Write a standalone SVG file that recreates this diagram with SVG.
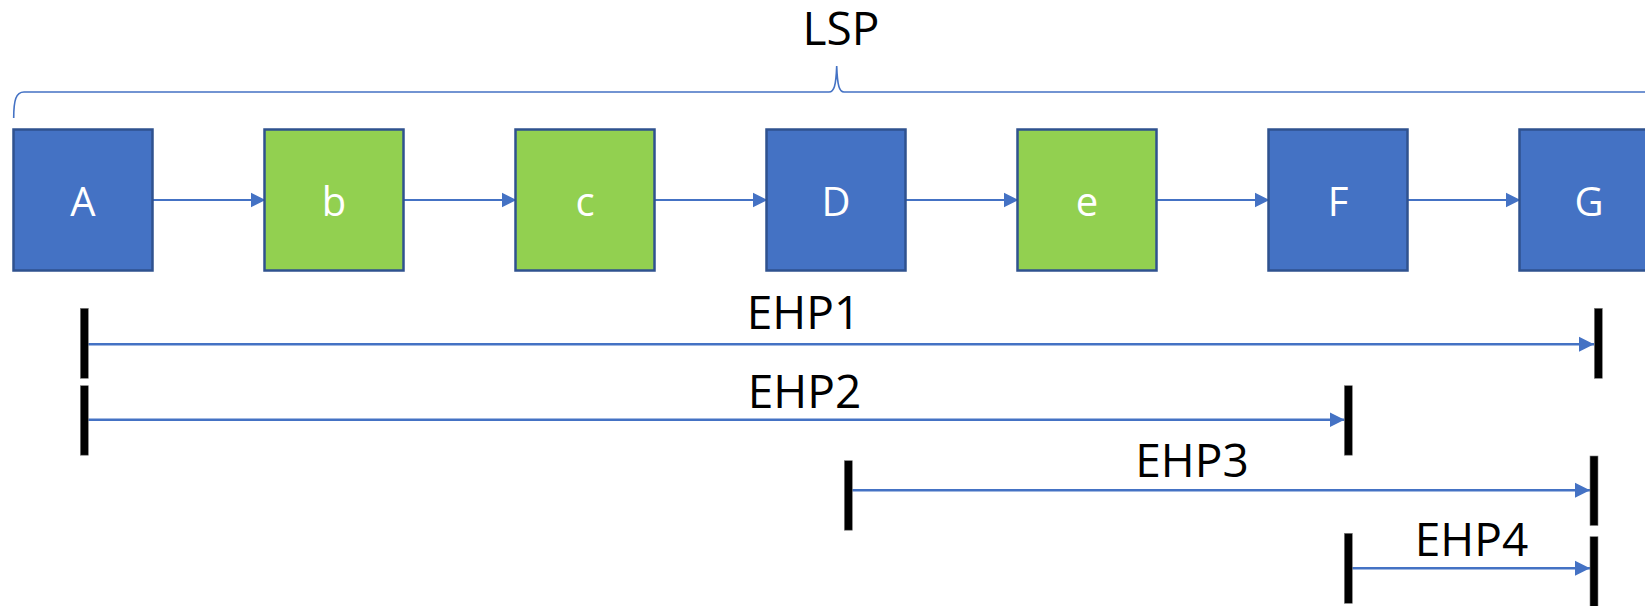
<svg xmlns="http://www.w3.org/2000/svg" width="1645" height="606" viewBox="0 0 1645 606">
<style>
.node rect{stroke:#2F528F;stroke-width:2.5}
.blue{fill:#4472C4}
.green{fill:#92D050}
.nl{font-family:"Open Sans","Noto Sans",sans-serif;font-size:40px;fill:#FFFFFF;text-anchor:middle}
.lbl{font-family:"Open Sans","Noto Sans",sans-serif;font-size:46px;fill:#000000;text-anchor:middle}
.conn{stroke:#4472C4;stroke-width:2;fill:none}
.ehp{stroke:#4472C4;stroke-width:2.5;fill:none}
.bar{fill:#000000;stroke:#7F7F7F;stroke-width:0.6}
</style>
<defs>
<marker id="ah" markerUnits="userSpaceOnUse" markerWidth="16" markerHeight="16" viewBox="0 0 16 16" refX="15" refY="8" orient="auto">
<path d="M0,0.5 L15,8 L0,15.5 Z" fill="#4472C4"/>
</marker>
</defs>
<rect width="1645" height="606" fill="#FFFFFF"/>
<g id="brace">
<path d="M13.7,118 C13.7,100 16,92 24,92 L829,92 C834,92 836,86 836.7,66 C837.4,86 839.4,92 844,92 L1650,92 C1658,92 1660,100 1660,118" fill="none" stroke="#4472C4" stroke-width="1.6"/>
<text class="lbl" x="841" y="45" font-size="47">LSP</text>
</g>
<g id="connectors">
<line class="conn" x1="152.5" y1="200" x2="265.5" y2="200" marker-end="url(#ah)"/>
<line class="conn" x1="403.5" y1="200" x2="516.5" y2="200" marker-end="url(#ah)"/>
<line class="conn" x1="654.5" y1="200" x2="767.5" y2="200" marker-end="url(#ah)"/>
<line class="conn" x1="905.5" y1="200" x2="1018.5" y2="200" marker-end="url(#ah)"/>
<line class="conn" x1="1156.5" y1="200" x2="1269.5" y2="200" marker-end="url(#ah)"/>
<line class="conn" x1="1407.5" y1="200" x2="1520.5" y2="200" marker-end="url(#ah)"/>
</g>
<g id="node-A" class="node"><rect class="blue" x="13.5" y="129.5" width="139" height="141"/><text class="nl" x="83" y="215.5">A</text></g>
<g id="node-b" class="node"><rect class="green" x="264.5" y="129.5" width="139" height="141"/><text class="nl" x="334" y="215.5">b</text></g>
<g id="node-c" class="node"><rect class="green" x="515.5" y="129.5" width="139" height="141"/><text class="nl" x="585" y="215.5">c</text></g>
<g id="node-D" class="node"><rect class="blue" x="766.5" y="129.5" width="139" height="141"/><text class="nl" x="836" y="215.5">D</text></g>
<g id="node-e" class="node"><rect class="green" x="1017.5" y="129.5" width="139" height="141"/><text class="nl" x="1087" y="215.5">e</text></g>
<g id="node-F" class="node"><rect class="blue" x="1268.5" y="129.5" width="139" height="141"/><text class="nl" x="1338" y="215.5">F</text></g>
<g id="node-G" class="node"><rect class="blue" x="1519.5" y="129.5" width="139" height="141"/><text class="nl" x="1589" y="215.5">G</text></g>
<g id="ehp1">
<line class="ehp" x1="88" y1="344.3" x2="1594" y2="344.3" marker-end="url(#ah)"/>
<rect class="bar" x="80.3" y="308.3" width="8" height="70"/>
<rect class="bar" x="1594.3" y="308.3" width="8" height="70"/>
<text class="lbl" x="803.5" y="329.3">EHP1</text>
</g>
<g id="ehp2">
<line class="ehp" x1="88" y1="419.8" x2="1344.5" y2="419.8" marker-end="url(#ah)"/>
<rect class="bar" x="80.3" y="385.7" width="8" height="69.5"/>
<rect class="bar" x="1344.3" y="385.7" width="8" height="69.5"/>
<text class="lbl" x="804.5" y="408.3">EHP2</text>
</g>
<g id="ehp3">
<line class="ehp" x1="852" y1="490.3" x2="1590" y2="490.3" marker-end="url(#ah)"/>
<rect class="bar" x="844.3" y="460.7" width="8" height="69.5"/>
<rect class="bar" x="1590" y="456" width="8" height="69.5"/>
<text class="lbl" x="1192" y="477">EHP3</text>
</g>
<g id="ehp4">
<line class="ehp" x1="1352" y1="568.3" x2="1590" y2="568.3" marker-end="url(#ah)"/>
<rect class="bar" x="1344.3" y="533.3" width="8" height="70"/>
<rect class="bar" x="1590" y="536.7" width="8" height="75"/>
<text class="lbl" x="1471.5" y="556">EHP4</text>
</g>
</svg>
